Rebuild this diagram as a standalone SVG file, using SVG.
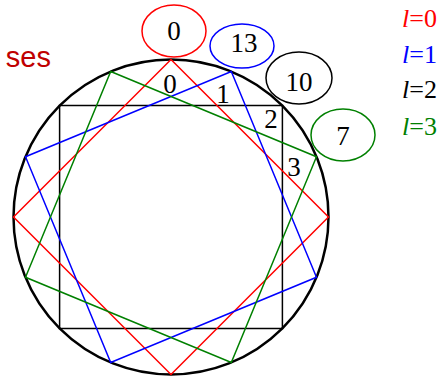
<svg xmlns="http://www.w3.org/2000/svg" width="438" height="379" viewBox="0 0 438 379">
<style>
.sq{fill:none;stroke-width:1.5;stroke-linejoin:miter}
.ell{fill:#fff;stroke-width:1.5}
.num{font-family:"Liberation Serif","Times New Roman",serif;font-size:27px;text-anchor:middle;fill:#000}
.leg{font-family:"Liberation Serif","Times New Roman",serif;font-size:26px;text-anchor:end}
.it{font-style:italic}
</style>
<rect width="438" height="379" fill="#fff"/>
<g id="connectors">
<circle cx="171" cy="217" r="157.5" fill="none" stroke="#000" stroke-width="2.5"/>
<polygon class="sq" stroke="#000" points="59.6,105.6 282.4,105.6 282.4,328.4 59.6,328.4"/>
<polygon class="sq" stroke="#f00" points="171,59.5 328.5,217 171,374.5 13.5,217"/>
<polygon class="sq" stroke="#00f" points="231.3,71.5 316.5,277.3 110.7,362.5 25.5,156.7"/>
<polygon class="sq" stroke="#008000" points="110.7,71.5 316.5,156.7 231.3,362.5 25.5,277.3"/>
</g>
<g id="inner-labels">
<text class="num" x="170" y="93">0</text>
<text class="num" x="223" y="103">1</text>
<text class="num" x="271" y="128">2</text>
<text class="num" x="294" y="176">3</text>
</g>
<g id="node-0">
<ellipse class="ell" cx="174" cy="31" rx="32" ry="26" stroke="#f00"/>
<text class="num" x="174" y="40">0</text>
</g>
<g id="node-13">
<ellipse class="ell" cx="242" cy="46" rx="32" ry="22" stroke="#00f"/>
<text class="num" x="244" y="52">13</text>
</g>
<g id="node-10">
<ellipse class="ell" cx="299" cy="78" rx="33" ry="26" stroke="#000"/>
<text class="num" x="299" y="91">10</text>
</g>
<g id="node-7">
<ellipse class="ell" cx="343" cy="135" rx="32" ry="26" stroke="#008000"/>
<text class="num" x="343" y="145">7</text>
</g>
<g id="legend">
<text class="leg" x="437" y="27" fill="#f00"><tspan class="it">l</tspan>=0</text>
<text class="leg" x="437" y="63" fill="#00f"><tspan class="it">l</tspan>=1</text>
<text class="leg" x="437" y="98" fill="#000"><tspan class="it">l</tspan>=2</text>
<text class="leg" x="437" y="135" fill="#008000"><tspan class="it">l</tspan>=3</text>
</g>
<text x="51" y="67" font-family="Liberation Sans, Arial, sans-serif" font-size="29" fill="#c00000" text-anchor="end">ses</text>
</svg>
